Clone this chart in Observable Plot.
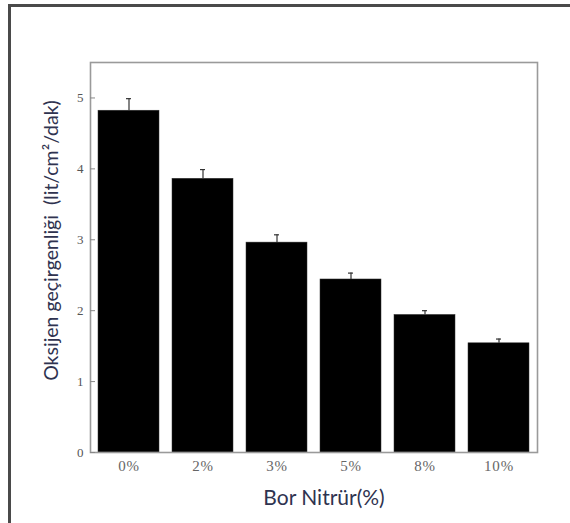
<!DOCTYPE html>
<html>
<head>
<meta charset="utf-8">
<script src="https://cdn.jsdelivr.net/npm/d3@7"></script>
<script src="https://cdn.jsdelivr.net/npm/@observablehq/plot@0.6"></script>
<style>
  html, body { margin: 0; padding: 0; background: #fff; overflow: hidden; }
  #wrap { position: relative; width: 570px; height: 523px; }
  #border { position: absolute; left: 8px; top: 4px; width: 700px; height: 700px;
            border-left: 3px solid #4a4a4a; border-top: 3px solid #4a4a4a; }
  #chart { position: absolute; left: 0; top: 0; }
  .xt text { letter-spacing: 0.8px; }
</style>
</head>
<body>
<div id="wrap"><div id="border"></div><div id="chart"></div></div>
<script>
const categories = ["0%", "2%", "3%", "5%", "8%", "10%"];
const values = [4.82, 3.86, 2.96, 2.44, 1.94, 1.54];
const errors = [0.17, 0.13, 0.11, 0.09, 0.06, 0.06];
const yTicks = [0, 1, 2, 3, 4, 5];
const yLabel = "Oksijen geçirgenliği  (lit/cm²/dak)";
const xLabel = "Bor Nitrür(%)";

const data = categories.map((c, i) => ({cat: c, value: values[i], err: values[i] + errors[i]}));

const chart = Plot.plot({
  width: 570,
  height: 523,
  marginLeft: 90,
  marginRight: 33,
  marginTop: 62,
  marginBottom: 71,
  style: {background: "transparent", overflow: "visible"},
  x: {domain: categories, paddingInner: 0.18, paddingOuter: 0.09},
  y: {domain: [0, 5.5]},
  marks: [
    Plot.barY(data, {x: "cat", y: "value", fill: "#000", stroke: "#333", strokeWidth: 0.5}),
    Plot.ruleX(data, {x: "cat", y1: "value", y2: "err", stroke: "#333", strokeWidth: 1.2}),
    Plot.tickY(data, {x: "cat", y: "err", stroke: "#333", strokeWidth: 1.2, insetLeft: 28, insetRight: 28}),
    Plot.frame({stroke: "#9a9a9a", strokeWidth: 1.6}),
    Plot.axisY({ticks: yTicks, tickFormat: d => String(d), tickSize: -5, tickPadding: 12, label: null, stroke: "#888",
      fontSize: 13, fontFamily: "Liberation Serif", color: "#555"}),
    Plot.axisX({tickSize: 0, tickPadding: 8, label: null, className: "xt",
      fontSize: 15, fontFamily: "Liberation Serif", color: "#666"}),
    Plot.text([yLabel], {frameAnchor: "left", textAnchor: "middle", lineAnchor: "middle", rotate: -90, dx: -39, dy: -17,
      fontSize: 19.5, fontFamily: "Lato", fill: "#2f3350"}),
    Plot.text([xLabel], {frameAnchor: "bottom", textAnchor: "middle", lineAnchor: "middle", dx: 10, dy: 46,
      fontSize: 21, fontFamily: "Lato", fill: "#2f3350"})
  ]
});
document.getElementById("chart").appendChild(chart);
</script>
</body>
</html>
